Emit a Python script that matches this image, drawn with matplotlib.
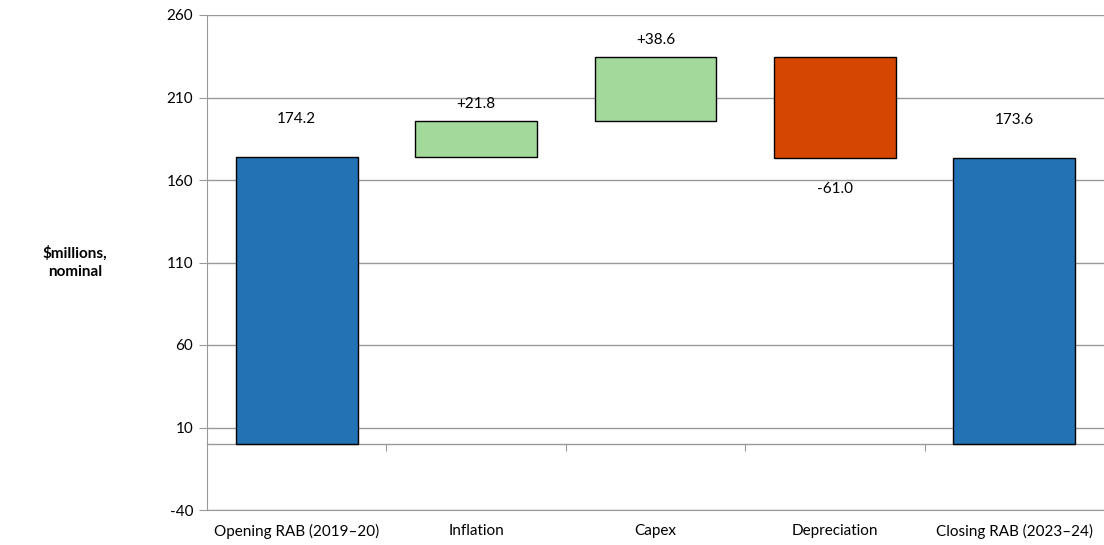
import matplotlib
matplotlib.use("Agg")
import matplotlib.pyplot as plt
import numpy as np

categories = ["Opening RAB (2019\u201320)", "Inflation", "Capex", "Depreciation", "Closing RAB (2023\u201324)"]
changes = [174.2, 21.8, 38.6, -61.0, 173.6]
kinds = ["total", "delta", "delta", "delta", "total"]
labels = ["174.2", "+21.8", "+38.6", "-61.0", "173.6"]
y_ticks = [-40, 10, 60, 110, 160, 210, 260]

colors = {"total": "#2372B4", "up": "#A3D99B", "down": "#D54600"}

plt.rcParams['font.family'] = ['Lato', 'DejaVu Sans']
plt.rcParams['axes.unicode_minus'] = False

fig = plt.figure(figsize=(11.04, 5.45), dpi=100)
ax = fig.add_axes([207/1104, 35/545, (1104-207)/1104, (510-15)/545])

x = np.arange(len(categories))
bottoms, heights, cols = [], [], []
running = 0.0
for v, k in zip(changes, kinds):
    if k == "total":
        bottoms.append(0.0); heights.append(v); cols.append(colors["total"])
        running = v
    else:
        bottoms.append(running); heights.append(v)
        cols.append(colors["up"] if v >= 0 else colors["down"])
        running += v

ax.bar(x, heights, bottom=bottoms, width=0.68, color=cols, edgecolor="black", linewidth=1.0, zorder=3)

fs = 11
for i, (b, h, lab) in enumerate(zip(bottoms, heights, labels)):
    top = max(b, b + h)
    low = min(b, b + h)
    if kinds[i] == "total":
        ax.text(i, top + 23, lab, ha="center", va="center", fontsize=fs)
    elif h >= 0:
        ax.text(i, top + 10, lab, ha="center", va="center", fontsize=fs)
    else:
        ax.text(i, low - 19, lab, ha="center", va="center", fontsize=fs)

ax.set_xlim(-0.5, len(categories) - 0.5)
ax.set_ylim(-40, 260)
ax.set_yticks(y_ticks)
ax.yaxis.grid(True, color="#999999", linewidth=1.0, zorder=0)
ax.tick_params(axis="y", length=6, color="#999999", labelsize=fs, pad=4)
ax.set_xticks(x)
ax.set_xticklabels(categories)
ax.tick_params(axis="x", length=0, labelsize=fs, pad=10)

for s in ["top", "right"]:
    ax.spines[s].set_visible(False)
ax.spines["left"].set_color("#999999")
ax.spines["bottom"].set_color("#999999")

# zero axis line with boundary ticks
sec = ax.secondary_xaxis(40/300)
sec.set_xticks(np.arange(0.5, len(categories) - 0.5, 1.0))
sec.set_xticklabels([])
sec.tick_params(axis="x", direction="out", length=5, color="#999999")
sec.spines["bottom"].set_color("#999999")
sec.spines["bottom"].set_linewidth(1.0)

fig.text(75/1104, 1 - 262/545, "$millions,\nnominal", ha="center", va="center",
         fontsize=fs, fontweight="bold", linespacing=1.4)

fig.savefig("out.png", dpi=100)
